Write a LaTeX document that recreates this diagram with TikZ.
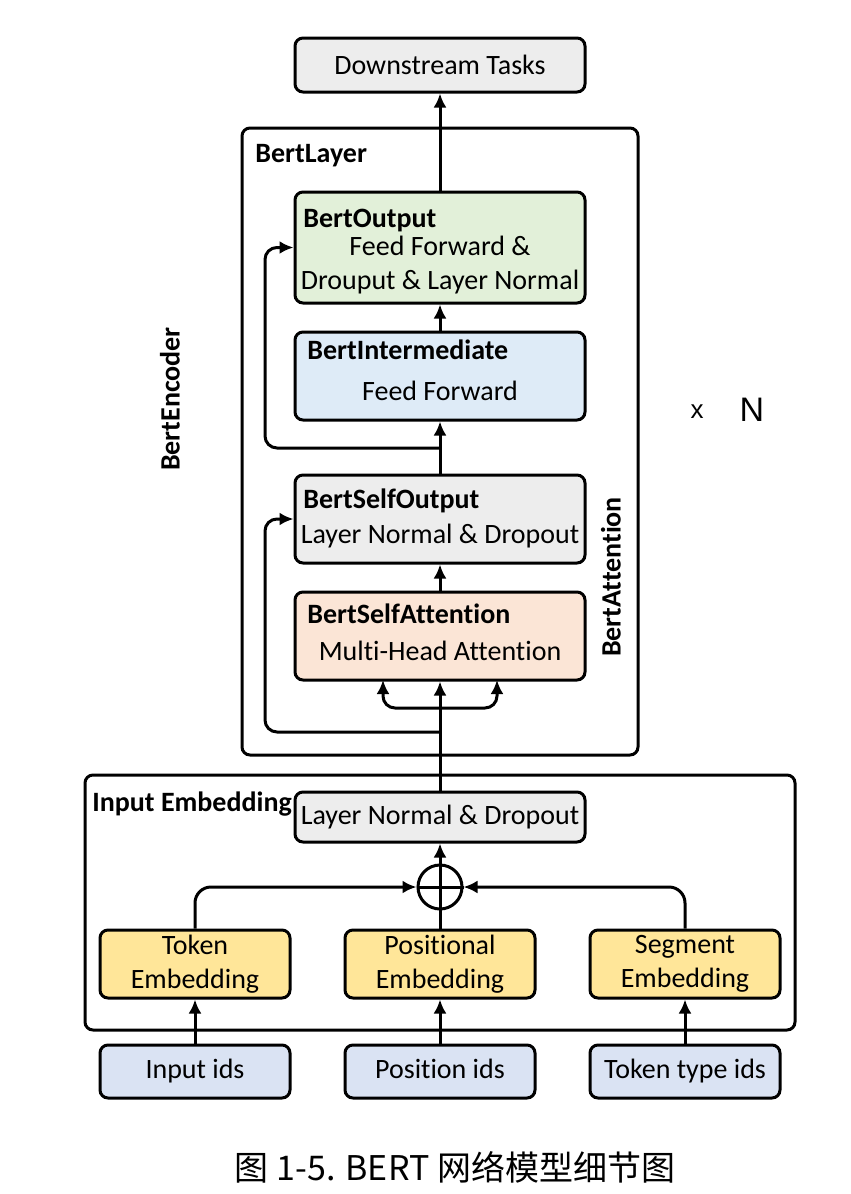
\documentclass[tikz,border=0pt]{standalone}
\usepackage{fontspec}
\setmainfont{Carlito}[Ligatures=NoCommon]
\newfontfamily\capfont{Noto Sans CJK SC}
\newfontfamily\nfont{Liberation Sans}
\usepackage{tikz}
\usetikzlibrary{arrows.meta}
\usetikzlibrary{shapes}

\definecolor{boxgray}{HTML}{EDEDED}
\definecolor{outgreen}{HTML}{E2F0D9}
\definecolor{midblue}{HTML}{DEEBF7}
\definecolor{attpeach}{HTML}{FBE5D6}
\definecolor{embyellow}{HTML}{FFE699}
\definecolor{idblue}{HTML}{DAE3F3}

\begin{document}
\begin{tikzpicture}[x=0.5pt, y=-0.5pt, >={Latex[length=7pt,width=6.5pt]},
	box/.style={draw, line width=1.5pt, rounded corners=4pt, minimum width=145pt, inner sep=0pt, font=\fontsize{14}{17}\selectfont, align=center},
	groupbox/.style={draw, line width=1.5pt, rounded corners=4pt, inner sep=0pt},
	lbl/.style={inner sep=0pt, font=\fontsize{14}{17}\selectfont, align=center},
	ttl/.style={inner sep=0pt, anchor=base west, font=\fontsize{14}{17}\selectfont\bfseries},
	flow/.style={->, line width=1.5pt},
	link/.style={line width=1.5pt}]
	\useasboundingbox (0,0) rectangle (851,1194);

	% outer groups
	\node[groupbox, minimum width=198pt, minimum height=313.5pt] (layer) at (440,441.5) {};
	\node[groupbox, minimum width=355pt, minimum height=127.5pt] (embed) at (440,902.5) {};
	\node[ttl] (layer-t) at (255,162) {BertLayer};
	\node[ttl] (embed-t) at (92,811) {Input Embedding};
	\node[ttl, rotate=90, anchor=center] (enc-t) at (170,399) {BertEncoder};
	\node[ttl, rotate=90, anchor=center] (att-t) at (611,577) {BertAttention};
	\node[lbl, font=\nfont\fontsize{13}{15}\selectfont] (times) at (697,412) {x};
	\node[lbl, font=\nfont\fontsize{17}{20}\selectfont] (depth) at (752,410) {N};

	% encoder layer
	\node[box, fill=boxgray, minimum height=27pt] (down) at (440,65) {Downstream Tasks};
	\node[box, fill=outgreen, minimum height=55.5pt] (out) at (440,247.5) {};
	\node[box, fill=midblue, minimum height=44pt] (inter) at (440,376) {};
	\node[box, fill=boxgray, minimum height=44pt] (so) at (440,519) {};
	\node[box, fill=attpeach, minimum height=44pt] (sa) at (440,636) {};
	\node[ttl] (out-t) at (303,227) {BertOutput};
	\node[ttl] (inter-t) at (307,359) {BertIntermediate};
	\node[ttl] (so-t) at (303,508) {BertSelfOutput};
	\node[ttl] (sa-t) at (307,623) {BertSelfAttention};
	\node[lbl, anchor=base] (out-b) at (440,289) {Feed Forward \&\\Drouput \& Layer Normal};
	\node[lbl, anchor=base] (inter-b) at (440,400) {Feed Forward};
	\node[lbl, anchor=base] (so-b) at (440,543) {Layer Normal \& Dropout};
	\node[lbl, anchor=base] (sa-b) at (440,660) {Multi-Head Attention};

	% embedding
	\node[box, fill=boxgray, minimum height=25pt] (ln) at (440,817) {Layer Normal \& Dropout};
	\node[draw, circle, line width=1.5pt, minimum size=22pt, inner sep=0pt] (sum) at (440,887) {};
	\foreach \x/\e/\i/\n in {195/Token/Input ids/tok, 440/Positional/Position ids/pos, 685/Segment/Token type ids/seg}{
		\node[box, fill=embyellow, minimum width=95pt, minimum height=34pt] (\n) at (\x,964) {\e\\Embedding};
		\node[box, fill=idblue, minimum width=95pt, minimum height=26.5pt, text height=10pt, text depth=3.5pt] (\n-id) at (\x,1071.5) {\i};
		\draw[flow] (\n-id) -- (\n);
	}
	\draw[link] (sum.north) -- (sum.south);
	\draw[link] (sum.west) -- (sum.east);
	\draw[link] (pos.north) -- (sum.south);
	\draw[flow, rounded corners=8pt] (tok.north) |- (sum.west);
	\draw[flow, rounded corners=8pt] (seg.north) |- (sum.east);
	\draw[flow] (sum.north) -- (ln.south);

	% main path
	\coordinate (fork) at (440,708);
	\coordinate (qin) at (383,680);
	\coordinate (vin) at (497,680);
	\coordinate (skipa) at (440,732);
	\coordinate (skipb) at (440,448);
	\draw[flow] (ln.north) -- (sa.south);
	\draw[flow, rounded corners=6pt] (fork) -| (qin);
	\draw[flow, rounded corners=6pt] (fork) -| (vin);
	\draw[flow, rounded corners=6pt] (skipa) -- ++(-175,0) |- (so.west);
	\draw[flow, rounded corners=6pt] (skipb) -- ++(-175,0) |- (out.west);
	\draw[flow] (sa) -- (so);
	\draw[flow] (so) -- (inter);
	\draw[flow] (inter) -- (out);
	\draw[flow] (out) -- (down);

	\node[lbl, font=\capfont\fontsize{17}{20}\selectfont] (cap) at (455,1167) {图 1-5. BERT 网络模型细节图};
\end{tikzpicture}
\end{document}
